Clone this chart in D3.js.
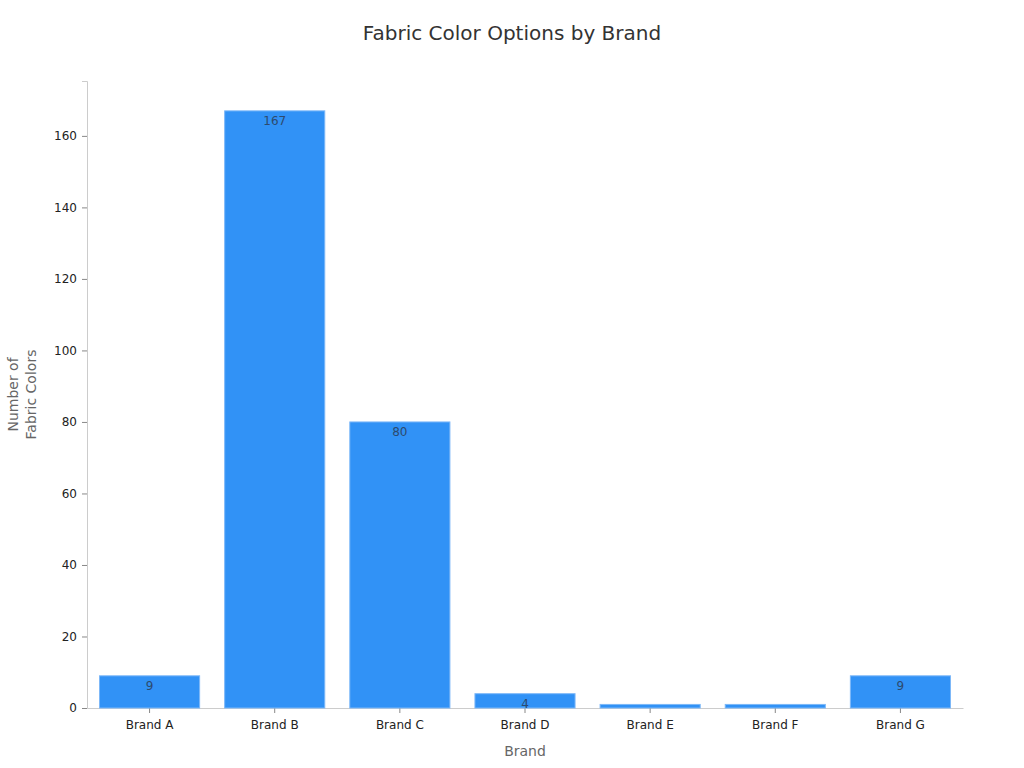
<!DOCTYPE html>
<html>
<head>
<meta charset="utf-8">
<script src="https://cdn.jsdelivr.net/npm/d3@7"></script>
<style>
  body { margin: 0; background: #fff; }
  text { font-family: "DejaVu Sans", sans-serif; }
</style>
</head>
<body>
<div id="chart"></div>
<script>
const brands = ['Brand A', 'Brand B', 'Brand C', 'Brand D', 'Brand E', 'Brand F', 'Brand G'];
const colorCounts = [9, 167, 80, 4, 1, 1, 9];
const yTicks = [0, 20, 40, 60, 80, 100, 120, 140, 160];

const WIDTH = 1024;
const HEIGHT = 768;
const margin = { top: 81, right: 61, bottom: 60, left: 87 };
const innerW = WIDTH - margin.left - margin.right;
const innerH = HEIGHT - margin.top - margin.bottom;

const data = brands.map((b, i) => ({ brand: b, value: colorCounts[i] }));

const svg = d3.select('#chart')
  .append('svg')
  .attr('width', WIDTH)
  .attr('height', HEIGHT);

svg.append('text')
  .attr('x', WIDTH / 2)
  .attr('y', 40)
  .attr('text-anchor', 'middle')
  .style('font-size', '20px')
  .style('fill', '#333')
  .text('Fabric Color Options by Brand');

const g = svg.append('g')
  .attr('transform', `translate(${margin.left},${margin.top})`);

const x = d3.scaleBand()
  .domain(brands)
  .range([0, innerW])
  .paddingInner(0.2)
  .paddingOuter(0.1);

const y = d3.scaleLinear()
  .domain([0, d3.max(colorCounts) * 1.05])
  .range([innerH, 0]);

// axes
const yAxis = g.append('g')
  .call(d3.axisLeft(y).tickValues(yTicks).tickSize(5).tickPadding(5));
yAxis.select('.domain').attr('stroke', '#ccc');
yAxis.selectAll('.tick line').attr('stroke', '#888');
yAxis.selectAll('.tick text').style('font-size', '12px').style('fill', '#222')
  .style('font-family', '"DejaVu Sans", sans-serif');

const xAxis = g.append('g')
  .attr('transform', `translate(0,${innerH})`)
  .call(d3.axisBottom(x).tickSize(5).tickPadding(7).tickSizeOuter(0));
xAxis.select('.domain').attr('stroke', '#ccc');
xAxis.selectAll('.tick line').attr('stroke', '#888');
xAxis.selectAll('.tick text').style('font-size', '12px').style('fill', '#222')
  .style('font-family', '"DejaVu Sans", sans-serif');

// clip each label to its bar
const defs = svg.append('defs');
defs.selectAll('clipPath')
  .data(data)
  .join('clipPath')
  .attr('id', (d, i) => `clip${i}`)
  .append('rect')
  .attr('x', d => x(d.brand))
  .attr('y', d => y(d.value))
  .attr('width', x.bandwidth())
  .attr('height', d => innerH - y(d.value));

g.selectAll('rect.bar')
  .data(data)
  .join('rect')
  .attr('class', 'bar')
  .attr('x', d => x(d.brand))
  .attr('y', d => y(d.value))
  .attr('width', x.bandwidth())
  .attr('height', d => innerH - y(d.value))
  .attr('fill', '#3192f6')
  .attr('stroke', '#7db8f8')
  .attr('stroke-width', 1);

g.selectAll('text.val')
  .data(data)
  .join('text')
  .attr('class', 'val')
  .attr('clip-path', (d, i) => `url(#clip${i})`)
  .attr('x', d => x(d.brand) + x.bandwidth() / 2)
  .attr('y', d => y(d.value) + 10)
  .attr('dominant-baseline', 'central')
  .attr('text-anchor', 'middle')
  .style('font-size', '12px')
  .style('fill', '#2d4a6e')
  .text(d => d.value);

// axis titles
svg.append('text')
  .attr('x', margin.left + innerW / 2)
  .attr('y', 756)
  .attr('text-anchor', 'middle')
  .style('font-size', '14px')
  .style('fill', '#666')
  .text('Brand');

const yt = svg.append('text')
  .attr('transform', `translate(18,${margin.top + innerH / 2}) rotate(-90)`)
  .attr('text-anchor', 'middle')
  .style('font-size', '14px')
  .style('fill', '#666');
yt.append('tspan').attr('x', 0).attr('dy', 0).text('Number of');
yt.append('tspan').attr('x', 0).attr('dy', 18).text('Fabric Colors');
</script>
</body>
</html>
